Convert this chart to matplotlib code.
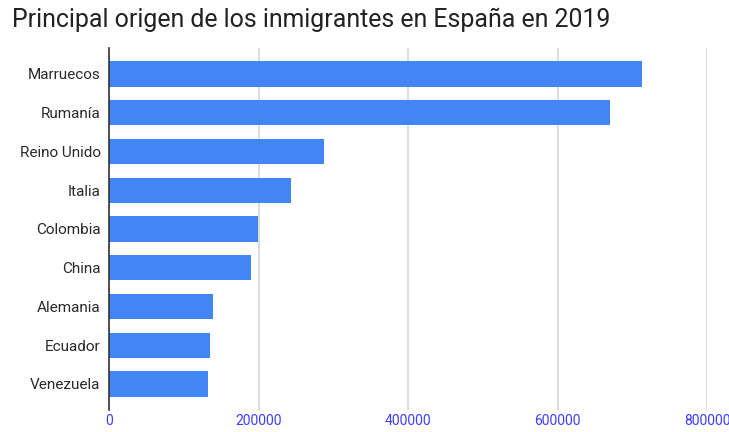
import matplotlib.pyplot as plt

plt.rcParams['font.family'] = ['Roboto', 'DejaVu Sans']

# datos
paises = ["Marruecos", "Rumanía", "Reino Unido", "Italia", "Colombia",
          "China", "Alemania", "Ecuador", "Venezuela"]
inmigrantes = [712500, 670500, 287000, 243000, 199000,
               190000, 138500, 135000, 133000]
ticks_x = [0, 200000, 400000, 600000, 800000]

fig = plt.figure(figsize=(7.29, 4.32), dpi=100)
ax = fig.add_axes([0.1495, 0.051, 0.8205, 0.838])

posiciones = list(range(len(paises)))
ax.barh(posiciones, inmigrantes, height=0.65, color="#4285f4", zorder=3)

ax.set_xlim(0, 800000)
ax.set_ylim(len(paises) - 1 + 0.67, -0.67)
ax.set_yticks(posiciones)
ax.set_yticklabels(paises, fontsize=11, color="#2a2a2a")
ax.set_xticks(ticks_x)
ax.set_xticklabels([str(t) for t in ticks_x], fontsize=10, color="#3d3dff")

ax.grid(axis="x", color="#d6d6d6", linewidth=1.2, zorder=0)
ax.tick_params(length=0)
ax.tick_params(axis="x", pad=3)
ax.tick_params(axis="y", pad=6)
for lado in ["top", "right", "bottom"]:
    ax.spines[lado].set_visible(False)
ax.spines["left"].set_color("#333333")
ax.spines["left"].set_linewidth(1.2)
ax.spines["left"].set_zorder(4)

fig.text(0.016, 0.953, "Principal origen de los inmigrantes en España en 2019",
         fontsize=17.9, color="#222222", va="center", ha="left")

fig.savefig("out.png", dpi=100)
